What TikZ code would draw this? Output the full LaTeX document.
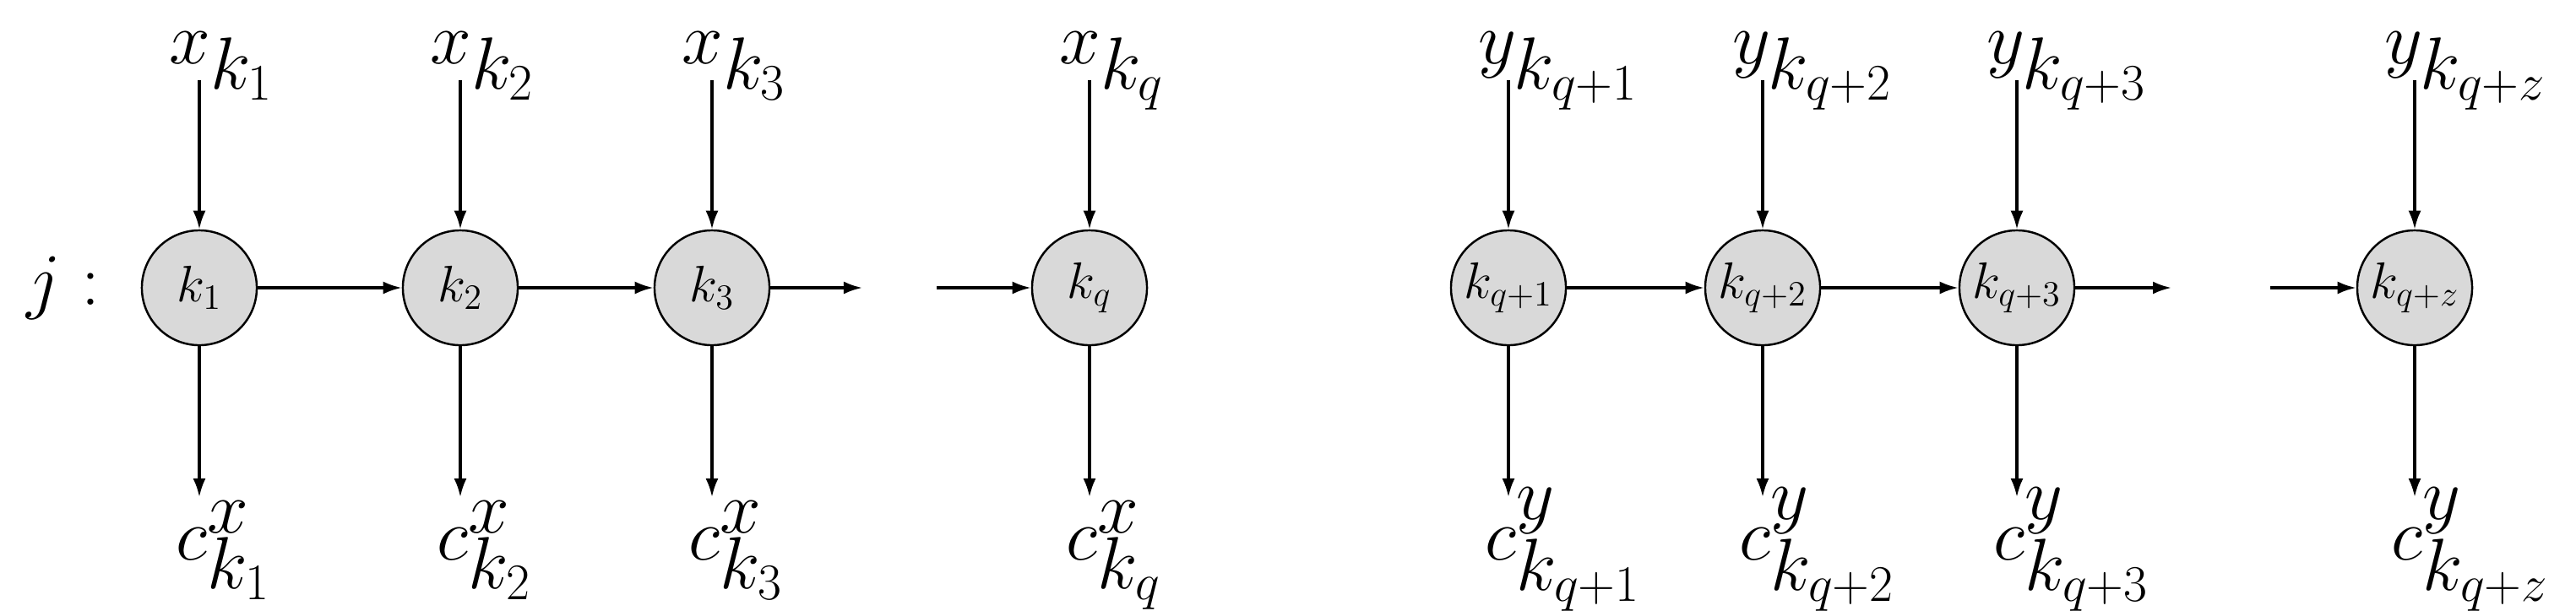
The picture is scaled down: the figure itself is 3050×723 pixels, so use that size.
\documentclass[tikz,border=0pt]{standalone}
\usetikzlibrary{arrows.meta}
\begin{document}
\begin{tikzpicture}[x=0.01cm,y=0.01cm,
  st/.style={circle,draw,fill=gray!30,line width=0.7pt,minimum size=1.36cm,inner sep=0pt,font=\fontsize{17}{20}\selectfont},
  lab/.style={inner sep=0pt,font=\fontsize{34}{40}\selectfont},
  ar/.style={-{Latex[length=0.22cm,width=0.15cm]},line width=0.9pt}]
\useasboundingbox (0,0) rectangle (3050,723);
\node[font=\fontsize{28}{34}\selectfont\bfseries] (j) at (75,382) {$j:$};
\foreach \n/\xx/\lt/\lb/\lk in {
  a/236/{x_{k_1}}/{c^x_{k_1}}/{k_1},
  b/545/{x_{k_2}}/{c^x_{k_2}}/{k_2},
  c/843/{x_{k_3}}/{c^x_{k_3}}/{k_3},
  d/1290/{x_{k_q}}/{c^x_{k_q}}/{k_q},
  e/1786/{y_{k_{q+1}}}/{c^y_{k_{q+1}}}/{k_{q+1}},
  f/2087/{y_{k_{q+2}}}/{c^y_{k_{q+2}}}/{k_{q+2}},
  g/2388/{y_{k_{q+3}}}/{c^y_{k_{q+3}}}/{k_{q+3}},
  h/2859/{y_{k_{q+z}}}/{c^y_{k_{q+z}}}/{k_{q+z}}}{
  \node[st] (\n) at (\xx,382) {$\lk$};
  \node[lab,anchor=base west] (\n t) at (\xx-36,648) {$\lt$};
  \node[lab,anchor=base west] (\n b) at (\xx-28,60) {$\lb$};
  \draw[ar] (\xx,628) -- (\n.north);
  \draw[ar] (\n.south) -- (\xx,134);
}
\coordinate (c1) at (1021,382);
\coordinate (d0) at (1109,382);
\coordinate (g1) at (2571,382);
\coordinate (h0) at (2688,382);
\draw[ar] (a) -- (b);
\draw[ar] (b) -- (c);
\draw[ar] (c) -- (c1);
\draw[ar] (d0) -- (d);
\draw[ar] (e) -- (f);
\draw[ar] (f) -- (g);
\draw[ar] (g) -- (g1);
\draw[ar] (h0) -- (h);
\end{tikzpicture}
\end{document}
